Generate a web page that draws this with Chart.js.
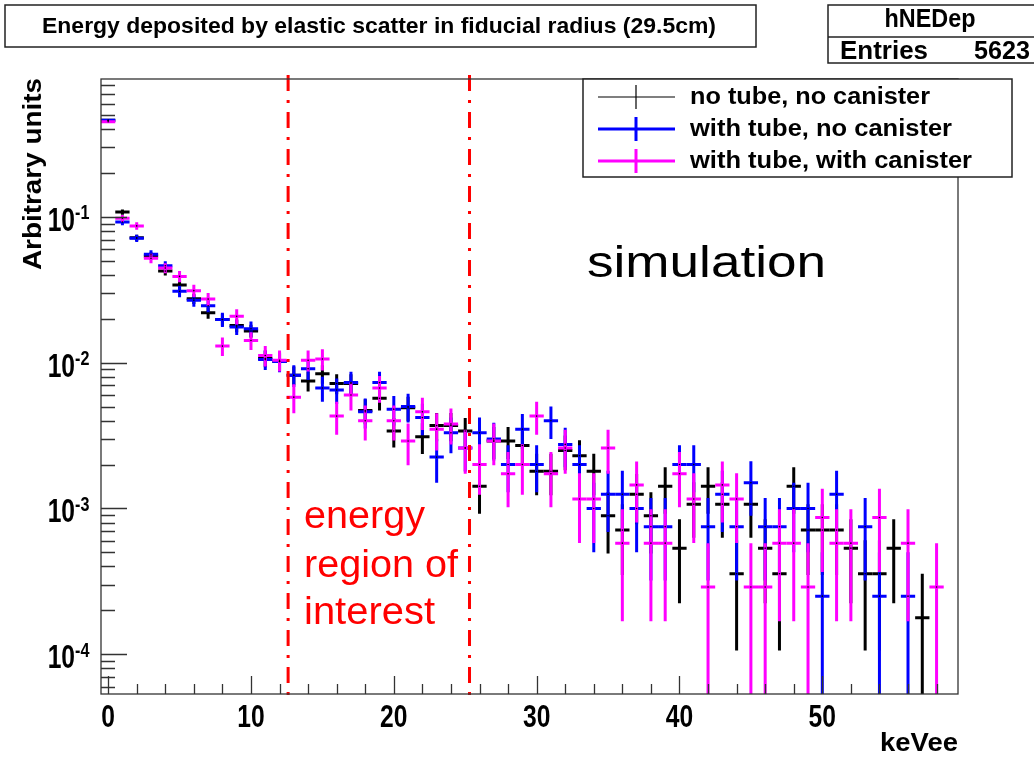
<!DOCTYPE html>
<html>
<head>
<meta charset="utf-8">
<script src="https://cdn.jsdelivr.net/npm/chart.js@4.4.1/dist/chart.umd.min.js"></script>
<style>html,body{margin:0;background:#fff}canvas{display:block}</style>
</head>
<body>
<canvas id="c" width="1034" height="757"></canvas>
<script>
// bin centres (keVee), one per 1 keV bin
const bins = [0,1,2,3,4,5,6,7,8,9,10,11,12,13,14,15,16,17,18,19,20,21,22,23,24,25,26,27,28,29,
  30,31,32,33,34,35,36,37,38,39,40,41,42,43,44,45,46,47,48,49,50,51,52,53,54,55,56,57,58];

// no tube, no canister (black)
const noTube = [0.46, 0.108, 0.072, 0.054, 0.0425, 0.0341, 0.0275, 0.022, 0.0198, 0.018,
  0.0165, 0.0107, 0.0102, 0.0082, 0.0075, 0.0084, 0.0072, 0.0072, 0.0047, 0.0057,
  0.0034, 0.0049, 0.0031, 0.0037, 0.0037, 0.0034, 0.00142, 0.0029, 0.0029, 0.0027,
  0.0018, 0.0018, 0.0025, 0.0023, 0.0018, 0.00089, 0.00071, 0.00125, 0.00089, 0.00142,
  0.000534, 0.00107, 0.00142, 0.00107, 0.000356, 0.00107, 0.000534, 0.000356, 0.00142, 0.00071,
  0.00071, 0.00071, 0.000534, 0.000356, 0.000356, 0.000534, null, 0.000178, null];
const noTubeErr = [0.0091, 0.0044, 0.0036, 0.0031, 0.0028, 0.0025, 0.0022, 0.002, 0.0019, 0.0018,
  0.0017, 0.0014, 0.00135, 0.0012, 0.00116, 0.00122, 0.00113, 0.00113, 0.00092, 0.001,
  0.00078, 0.00093, 0.00074, 0.00081, 0.00081, 0.00078, 0.0005, 0.00072, 0.00072, 0.00069,
  0.00057, 0.00057, 0.00067, 0.00064, 0.00057, 0.0004, 0.00036, 0.00047, 0.0004, 0.0005,
  0.00031, 0.00044, 0.0005, 0.00044, 0.00025, 0.00044, 0.00031, 0.00025, 0.0005, 0.00036,
  0.00036, 0.00036, 0.00031, 0.00025, 0.00025, 0.00031, null, 0.000178, null];

// with tube, no canister (blue)
const tubeOnly = [0.46, 0.0924, 0.0714, 0.0554, 0.0463, 0.0309, 0.0268, 0.0246, 0.0198, 0.0176,
  0.0171, 0.0105, 0.0102, 0.0082, 0.0091, 0.0067, 0.0065, 0.0073, 0.0046, 0.0073,
  0.0048, 0.005, 0.0042, 0.00225, 0.0033, 0.0026, 0.0033, 0.003, 0.002, 0.0035,
  0.002, 0.004, 0.00275, 0.002, 0.001, 0.00125, 0.00125, 0.001, 0.00075, 0.00075,
  0.002, 0.002, 0.00075, 0.00125, 0.00075, 0.0015, 0.00075, 0.00075, 0.001, 0.001,
  0.00025, 0.00125, null, 0.00075, 0.00025, null, 0.00025, null, null];
const tubeOnlyErr = [0.0107, 0.0048, 0.0042, 0.0037, 0.0034, 0.0028, 0.0026, 0.0025, 0.0022, 0.0021,
  0.0021, 0.0016, 0.0016, 0.0014, 0.0015, 0.0013, 0.0013, 0.00135, 0.00107, 0.00135,
  0.0011, 0.00112, 0.00102, 0.00075, 0.00091, 0.00081, 0.00091, 0.00087, 0.00071, 0.00094,
  0.00071, 0.001, 0.00083, 0.00071, 0.0005, 0.00056, 0.00056, 0.0005, 0.00043, 0.00043,
  0.00071, 0.00071, 0.00043, 0.00056, 0.00043, 0.00061, 0.00043, 0.00043, 0.0005, 0.0005,
  0.00025, 0.00056, null, 0.00043, 0.00025, null, 0.00025, null, null];

// with tube, with canister (magenta)
const tubeCan = [0.45, 0.098, 0.0868, 0.052, 0.0446, 0.0391, 0.0312, 0.0273, 0.013, 0.0208,
  0.0142, 0.0112, 0.0104, 0.0058, 0.0104, 0.0106, 0.0043, 0.006, 0.004, 0.0067,
  0.004, 0.0029, 0.0046, 0.0035, 0.0038, 0.0026, 0.002, 0.0029, 0.00173, 0.002,
  0.0043, 0.00173, 0.0026, 0.00116, 0.00116, 0.0026, 0.000578, 0.00145, 0.000578, 0.000578,
  0.00173, 0.00116, 0.000289, 0.00145, 0.00116, 0.000289, 0.000289, 0.000578, 0.000578, 0.000289,
  0.000867, 0.000578, 0.000578, null, 0.000867, null, 0.000578, null, 0.000289];
const tubeCanErr = [0.0114, 0.0053, 0.005, 0.0039, 0.0036, 0.0034, 0.003, 0.0028, 0.0019, 0.0025,
  0.002, 0.0018, 0.0017, 0.0013, 0.0017, 0.00175, 0.0011, 0.0013, 0.00108, 0.0014,
  0.00108, 0.00092, 0.00115, 0.001, 0.00105, 0.00087, 0.00076, 0.00092, 0.00071, 0.00076,
  0.0011, 0.00071, 0.00087, 0.00058, 0.00058, 0.00087, 0.00041, 0.00065, 0.00041, 0.00041,
  0.00071, 0.00058, 0.000289, 0.00065, 0.00058, 0.000289, 0.000289, 0.00041, 0.00041, 0.000289,
  0.0005, 0.00041, 0.00041, null, 0.0005, null, 0.00041, null, 0.000289];

const seriesNames = ["no tube, no canister", "with tube, no canister", "with tube, with canister"];
const xTicks = [0, 10, 20, 30, 40, 50];
const yDecades = [1e-1, 1e-2, 1e-3, 1e-4];
const roiEdges = [12.6, 25.3];

const FONT = "'Liberation Sans', Arial, Helvetica, sans-serif";

function text(ctx, str, x, y, o = {}) {
  const size = o.size || 20;
  ctx.save();
  ctx.font = `${o.bold === false ? "" : "bold "}${size}px ${FONT}`;
  ctx.fillStyle = o.color || "#000";
  ctx.textBaseline = "middle";
  const w = ctx.measureText(str).width;
  const sx = o.width ? o.width / w : (o.sx || 1);
  ctx.translate(x, y);
  if (o.rot) ctx.rotate(o.rot);
  ctx.scale(sx, o.sy || 1);
  const dx = o.align === "right" ? -w : o.align === "center" ? -w / 2 : 0;
  ctx.fillText(str, dx, 0);
  ctx.restore();
}

const points = (vals, errs) => bins
  .map((b, i) => ({ x: b, y: vals[i], err: errs[i] }))
  .filter((p) => p.y != null);

// crosses: horizontal bar = bin width, vertical = error
const errorBars = {
  id: "errorBars",
  beforeDatasetsDraw(chart) {
    const { ctx, chartArea: a, scales: { x, y } } = chart;
    ctx.save();
    ctx.beginPath();
    ctx.rect(a.left, a.top, a.right - a.left, a.bottom - a.top);
    ctx.clip();
    ctx.lineWidth = 3;
    for (const ds of chart.data.datasets) {
      ctx.strokeStyle = ds.barColor;
      for (const p of ds.data) {
        const px = x.getPixelForValue(p.x);
        const py = y.getPixelForValue(p.y);
        const lo = p.y - p.err > 1e-7 ? y.getPixelForValue(p.y - p.err) : a.bottom + 5;
        const hi = y.getPixelForValue(p.y + p.err);
        ctx.beginPath();
        ctx.moveTo(x.getPixelForValue(p.x - 0.5), py);
        ctx.lineTo(x.getPixelForValue(p.x + 0.5), py);
        ctx.moveTo(px, hi);
        ctx.lineTo(px, lo);
        ctx.stroke();
      }
    }
    ctx.restore();
  },
};

const decorations = {
  id: "decorations",
  afterDraw(chart) {
    const { ctx, chartArea: a, scales: { x, y } } = chart;
    ctx.save();

    // ROI lines
    ctx.strokeStyle = "#ff0000";
    ctx.lineWidth = 3;
    ctx.setLineDash([16, 9, 3, 9]);
    for (const e of roiEdges) {
      const px = x.getPixelForValue(e);
      ctx.beginPath();
      ctx.moveTo(px, a.top - 4);
      ctx.lineTo(px, a.bottom + 4);
      ctx.stroke();
    }
    ctx.setLineDash([]);

    // frame
    ctx.strokeStyle = "#333";
    ctx.lineWidth = 1.3;
    ctx.strokeRect(a.left, a.top, a.right - a.left, a.bottom - a.top);

    // y ticks (inside)
    ctx.beginPath();
    for (let d = -5; d <= 0; d++) {
      for (let m = 1; m <= 9; m++) {
        const v = m * Math.pow(10, d);
        if (v < y.min || v > y.max) continue;
        const py = Math.round(y.getPixelForValue(v)) + 0.5;
        ctx.moveTo(a.left, py);
        ctx.lineTo(a.left + (m === 1 ? 26 : 14), py);
      }
    }
    // x ticks (inside)
    for (let t = 0; t <= 58; t += 2) {
      const px = Math.round(x.getPixelForValue(t)) + 0.5;
      ctx.moveTo(px, a.bottom);
      ctx.lineTo(px, a.bottom - (t % 10 === 0 ? 18 : 10));
    }
    ctx.stroke();

    // tick labels
    for (const t of xTicks) text(ctx, String(t), x.getPixelForValue(t), 719, { size: 29, align: "center", sx: 0.85, sy: 1.05 });
    for (const v of yDecades) {
      const py = y.getPixelForValue(v);
      text(ctx, "10", 75, py + 5, { size: 30, align: "right", sx: 0.82, sy: 1.08 });
      text(ctx, String(Math.round(Math.log10(v))), 75, py - 3, { size: 19, sx: 0.85, sy: 1.05 });
    }

    // axis titles
    text(ctx, "keVee", 958, 744, { size: 25, align: "right", width: 78, sy: 1.05 });
    text(ctx, "Arbitrary units", 34, 270, { size: 25, rot: -Math.PI / 2, width: 192 });

    // title box
    ctx.lineWidth = 1.5;
    ctx.strokeStyle = "#222";
    ctx.fillStyle = "#fff";
    ctx.fillRect(5, 5, 751, 42);
    ctx.strokeRect(5, 5, 751, 42);
    text(ctx, "Energy deposited by elastic scatter in fiducial radius (29.5cm)", 42, 27, { size: 20, width: 674, sy: 1.12 });

    // stats box
    ctx.fillRect(828, 5, 220, 58);
    ctx.strokeRect(828, 5, 220, 58);
    ctx.beginPath();
    ctx.moveTo(828, 37);
    ctx.lineTo(1034, 37);
    ctx.stroke();
    text(ctx, "hNEDep", 930, 20, { size: 22, align: "center", width: 91, sy: 1.15 });
    text(ctx, "Entries", 840, 52, { size: 22, width: 88, sy: 1.15 });
    text(ctx, "5623", 1030, 52, { size: 22, align: "right", width: 56, sy: 1.15 });

    // legend
    ctx.fillStyle = "#fff";
    ctx.fillRect(583, 79, 429, 98);
    ctx.strokeRect(583, 79, 429, 98);
    const rows = [97, 129, 161];
    const widths = [240, 262, 282];
    chart.data.datasets.forEach((ds, i) => {
      ctx.strokeStyle = ds.barColor;
      ctx.lineWidth = i === 0 ? 1.2 : 3;
      ctx.beginPath();
      ctx.moveTo(598, rows[i]);
      ctx.lineTo(675, rows[i]);
      ctx.moveTo(636, rows[i] - 12);
      ctx.lineTo(636, rows[i] + 12);
      ctx.stroke();
      text(ctx, ds.label, 690, rows[i], { size: 23, width: widths[i], sy: 1.05 });
    });

    // annotations
    text(ctx, "simulation", 587, 265, { size: 45, bold: false, width: 239 });
    text(ctx, "energy", 304, 518, { size: 38, bold: false, color: "#ff0000", width: 121 });
    text(ctx, "region of", 304, 567, { size: 38, bold: false, color: "#ff0000", width: 154 });
    text(ctx, "interest", 304, 614, { size: 38, bold: false, color: "#ff0000", width: 131 });

    ctx.restore();
  },
};

const colors = ["#000000", "#0000ff", "#ff00ff"];
const values = [noTube, tubeOnly, tubeCan];
const errors = [noTubeErr, tubeOnlyErr, tubeCanErr];

new Chart(document.getElementById("c"), {
  type: "scatter",
  data: {
    datasets: values.map((v, i) => ({
      label: seriesNames[i],
      data: points(v, errors[i]),
      barColor: colors[i],
      showLine: false,
      pointRadius: 0.8,
      pointBackgroundColor: "#000",
      pointBorderWidth: 0,
    })),
  },
  options: {
    responsive: false,
    animation: false,
    layout: { padding: { left: 101, right: 76, top: 79, bottom: 63 } },
    plugins: { legend: { display: false }, tooltip: { enabled: false } },
    scales: {
      x: { type: "linear", min: -0.5, max: 59.5, display: false },
      y: { type: "logarithmic", min: 5.33e-5, max: 0.884, display: false },
    },
  },
  plugins: [errorBars, decorations],
});
</script>
</body>
</html>
